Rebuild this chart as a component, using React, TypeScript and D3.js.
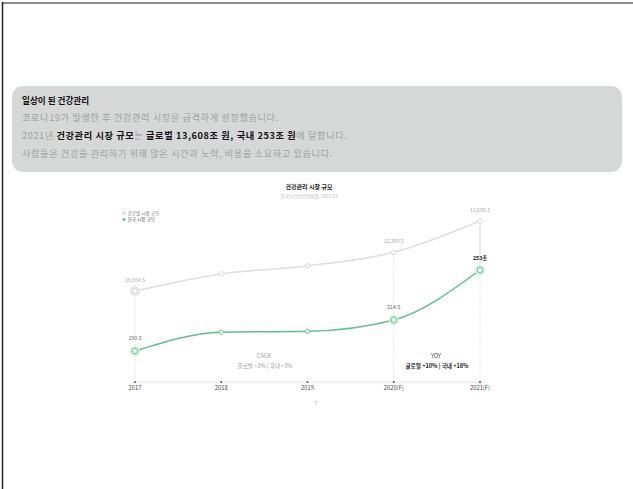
import React from 'react';
import * as d3 from 'd3';

const years = ['2017', '2018', '2019', '2020(F)', '2021(F)'];
const globalValues = [10884.5, 11550, 11860, 12390.5, 13608.5];
const koreaValues = [190.5, 205, 205.7, 214.5, 253];
const globalLabels = ['10,884.5', '', '', '12,390.5', '13,608.5'];
const koreaLabels = ['190.5', '', '', '214.5', '253조'];
const highlightGlobal = [0];
const highlightKorea = [0, 3, 4];
const seriesNames = ['글로벌 시장 규모', '한국 시장 규모'];

const FONT = "'Noto Sans CJK KR', 'Noto Sans', sans-serif";
const W = 633;
const H = 489;
const plot = { left: 135, right: 480, top: 210, bottom: 382 };
const GREEN = '#5fbf8c';
const GREY_LINE = '#dedede';

export default function App() {
  const x = d3.scalePoint<string>().domain(years).range([plot.left, plot.right]);
  const yG = d3.scaleLinear().domain([7343, 14037]).range([plot.bottom, plot.top]);
  const yK = d3.scaleLinear().domain([166.6, 299.3]).range([plot.bottom, plot.top]);

  const lineG = d3
    .line<number>()
    .x((_, i) => x(years[i]) as number)
    .y((d) => yG(d))
    .curve(d3.curveMonotoneX);
  const lineK = d3
    .line<number>()
    .x((_, i) => x(years[i]) as number)
    .y((d) => yK(d))
    .curve(d3.curveMonotoneX);

  const lastI = years.length - 1;
  const idx2020 = 3;

  return (
    <svg
      width={W}
      height={H}
      style={{ position: 'absolute', left: 0, top: 0, background: '#fff' }}
      fontFamily={FONT}
    >
      <rect x={0} y={0} width={W} height={H} fill="#fff" />
      {/* page border */}
      <line x1={2} x2={W} y1={3} y2={3} stroke="#8c8c8c" strokeWidth={2} />
      <line x1={2.5} x2={2.5} y1={2} y2={H} stroke="#222" strokeWidth={1.5} />

      {/* summary box */}
      <rect x={12} y={86} width={610} height={86} rx={11} fill="#d6d8d8" />
      <text x={22} y={104} fontSize={8.6} fontWeight={700} fill="#111">일상이 된 건강관리</text>
      <g fontSize={9.2} letterSpacing={0.6}>
        <text x={22} y={121} fill="#a0a0a0">코로나19가 발생한 후 건강관리 시장은 급격하게 성장했습니다.</text>
        <text x={22} y={139} fill="#a0a0a0">
          2021년 <tspan fontWeight={700} fill="#111">건강관리 시장 규모</tspan>는{' '}
          <tspan fontWeight={700} fill="#111">글로벌 13,608조 원, 국내 253조 원</tspan>에 달합니다.
        </text>
        <text x={22} y={157} fill="#a0a0a0">사람들은 건강을 관리하기 위해 많은 시간과 노력, 비용을 소요하고 있습니다.</text>
      </g>

      {/* chart title */}
      <text x={309} y={189} fontSize={6} fontWeight={700} fill="#222" textAnchor="middle">건강관리 시장 규모</text>
      <text x={309} y={198} fontSize={4.6} fill="#b5b5b5" textAnchor="middle">한국보건산업진흥원, 2021.03</text>

      {/* legend */}
      <circle cx={124} cy={213} r={1.4} fill="#fff" stroke="#bdbdbd" strokeWidth={0.7} />
      <text x={127.5} y={214.8} fontSize={4.6} fill="#777">{seriesNames[0]}</text>
      <circle cx={124} cy={219.5} r={1.5} fill={GREEN} />
      <text x={127.5} y={221.3} fontSize={4.6} fill="#555">{seriesNames[1]}</text>

      {/* axis */}
      <line x1={plot.left - 2} x2={plot.right + 6} y1={plot.bottom} y2={plot.bottom} stroke="#e2e2e2" strokeWidth={1} />
      {years.map((yr) => (
        <g key={yr}>
          <circle cx={x(yr)} cy={plot.bottom} r={0.9} fill="#444" />
          <text x={x(yr)} y={390} fontSize={5.8} fill="#444" textAnchor="middle">{yr}</text>
        </g>
      ))}

      {/* vertical guides */}
      <line
        x1={x(years[0])} x2={x(years[0])} y1={yG(globalValues[0])} y2={plot.bottom}
        stroke="#cfcfcf" strokeWidth={0.8} strokeDasharray="1 1.2"
      />
      <line
        x1={x(years[idx2020])} x2={x(years[idx2020])} y1={yG(globalValues[idx2020])} y2={plot.bottom}
        stroke="#cfcfcf" strokeWidth={0.8} strokeDasharray="1 1.2"
      />
      <line
        x1={x(years[lastI])} x2={x(years[lastI])} y1={yG(globalValues[lastI])} y2={yK(koreaValues[lastI])}
        stroke="#d6d6d6" strokeWidth={1}
      />
      <line
        x1={x(years[lastI])} x2={x(years[lastI])} y1={yK(koreaValues[lastI])} y2={plot.bottom}
        stroke="#cfcfcf" strokeWidth={0.8} strokeDasharray="1 1.2"
      />

      {/* lines */}
      <path d={lineG(globalValues) || ''} fill="none" stroke={GREY_LINE} strokeWidth={1.5} />
      <path d={lineK(koreaValues) || ''} fill="none" stroke={GREEN} strokeWidth={1.5} />

      {/* global points */}
      {globalValues.map((v, i) => (
        <g key={'g' + i}>
          {highlightGlobal.includes(i) && (
            <circle cx={x(years[i])} cy={yG(v)} r={5.2} fill="#e8e8e8" />
          )}
          <circle cx={x(years[i])} cy={yG(v)} r={2.3} fill="#fff" stroke="#d2d2d2" strokeWidth={0.8} />
          {globalLabels[i] && (
            <text x={x(years[i])} y={yG(v) - 9} fontSize={5.2} fill="#aaa" textAnchor="middle">{globalLabels[i]}</text>
          )}
        </g>
      ))}

      {/* korea points */}
      {koreaValues.map((v, i) => (
        <g key={'k' + i}>
          {highlightKorea.includes(i) && (
            <circle cx={x(years[i])} cy={yK(v)} r={5.2} fill="#cfeedd" opacity={0.9} />
          )}
          <circle
            cx={x(years[i])} cy={yK(v)}
            r={highlightKorea.includes(i) ? 2.8 : 2.1}
            fill="#fff" fillOpacity={highlightKorea.includes(i) ? 0.5 : 1}
            stroke={GREEN} strokeWidth={0.9}
          />
          {koreaLabels[i] && (
            <text
              x={x(years[i])} y={yK(v) - (i === lastI ? 10 : 11)}
              fontSize={5.3}
              fontWeight={i === lastI ? 700 : 400}
              fill={i === lastI ? '#222' : '#666'}
              textAnchor="middle"
            >
              {koreaLabels[i]}
            </text>
          )}
        </g>
      ))}

      {/* annotations */}
      <text x={264} y={358} fontSize={5.6} fill="#aaa" textAnchor="middle">CAGR</text>
      <text x={265} y={367.5} fontSize={5.6} fill="#999" textAnchor="middle">글로벌 +3% | 국내 +3%</text>
      <text x={436} y={358} fontSize={5.6} fill="#444" textAnchor="middle">YOY</text>
      <text x={437} y={367.5} fontSize={5.6} fontWeight={700} fill="#222" textAnchor="middle">글로벌 +10% | 국내 +18%</text>

      {/* page number */}
      <text x={316} y={405} fontSize={5} fill="#999" textAnchor="middle">7</text>
    </svg>
  );
}
